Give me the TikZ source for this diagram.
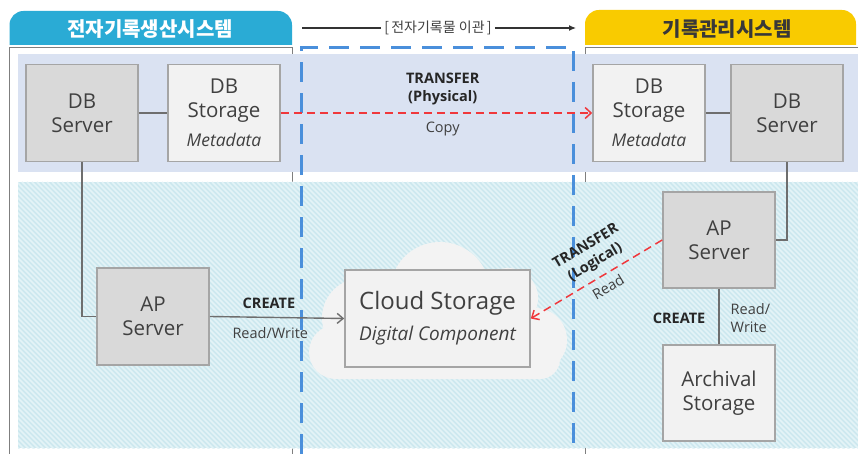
\documentclass[tikz,border=0pt]{standalone}
\usepackage{fontspec}
\setmainfont{Open Sans}
\newfontfamily\kr{Noto Sans CJK KR}
\usetikzlibrary{arrows.meta}
\definecolor{tabblue}{HTML}{2AABD5}
\definecolor{tabyellow}{HTML}{F9CB00}
\definecolor{bandtop}{HTML}{DAE2F2}
\definecolor{bandlow}{HTML}{CDE8EF}
\definecolor{stripe}{HTML}{E4F3F7}
\definecolor{framegray}{HTML}{7F7F7F}
\definecolor{boxdark}{HTML}{D9D9D9}
\definecolor{boxlight}{HTML}{F2F2F2}
\definecolor{boxline}{HTML}{A5A5A5}
\definecolor{txt}{HTML}{404040}
\definecolor{conn}{HTML}{6E6E6E}
\definecolor{reddash}{HTML}{F0383C}
\definecolor{dashblue}{HTML}{4A8FDB}
\definecolor{cloudfill}{HTML}{F3F3F3}
\begin{document}
\begin{tikzpicture}[x=1pt,y=-1pt,
  darkbox/.style={rectangle, fill=boxdark, draw=boxline, line width=1.6pt,
    minimum width=112pt, minimum height=97pt, align=center, text=txt,
    inner sep=0pt, font=\fontsize{20.5}{24}\selectfont},
  lightbox/.style={darkbox, fill=boxlight},
  conline/.style={draw=conn, line width=1.4pt},
  conarrow/.style={conline, -{Straight Barb[length=6pt,width=10pt,line width=1.4pt]}},
  redarrow/.style={draw=reddash, line width=1.5pt, dash pattern=on 8pt off 5pt,
    -{Straight Barb[length=6pt,width=11pt,line width=1.5pt]}},
  lbl/.style={font=\fontsize{14.5}{18}\selectfont, text=txt, inner sep=0pt, align=center},
  blbl/.style={lbl, font=\bfseries\fontsize{14.5}{18.5}\selectfont, text=black!85},
]
\useasboundingbox (0,0) rectangle (858,454);
\fill[white] (0,0) rectangle (858,454);

% tabs
\begin{scope}
  \clip (0,0) rectangle (858,45);
  \fill[tabblue, rounded corners=14pt] (9.5,11) rectangle (292,80);
  \fill[tabyellow, rounded corners=14pt] (585,10) rectangle (856,80);
\end{scope}
\node[font=\kr\bfseries\fontsize{20}{22}\selectfont, text=white] (tleft) at (150,29) {전자기록생산시스템};
\node[font=\kr\bfseries\fontsize{20}{22}\selectfont, text=black!78] (tright) at (727,29) {기록관리시스템};

% header arrow
\node[font=\kr\fontsize{14}{15}\selectfont, text=txt, inner sep=3pt] (hl) at (438,28) {[\,전자기록물 이관\,]};
\coordinate (ha) at (302,28);
\coordinate (hb) at (576,28);
\draw[black!80, line width=1.2pt] (ha) -- (hl.west);
\draw[black!80, line width=1.2pt, -{Latex[length=7pt,width=6pt]}] (hl.east) -- (hb);

% system frames
\draw[framegray, line width=1pt] (9.5,454) -- (9.5,48) -- (292,48) -- (292,454);
\draw[framegray, line width=1pt] (585,454) -- (585,48) -- (858,48);

% bands
\fill[bandtop] (18,54) rectangle (858,172);
\fill[bandlow] (18,182) rectangle (858,448);
\begin{scope}
  \clip (18,182) rectangle (858,448);
  \foreach \i in {0,5,...,1120} {
    \draw[stripe, line width=1.6pt] ({\i-266+18},182) -- ++(280,280);
  }
\end{scope}

% cloud
\fill[cloudfill] (440,292) circle (50);
\fill[cloudfill] (362,318) circle (40);
\fill[cloudfill] (336,352) circle (27);
\fill[cloudfill] (508,298) circle (30);
\fill[cloudfill] (535,340) circle (32);
\fill[cloudfill, rounded corners=20pt] (320,320) rectangle (560,379);

% blue dashed region
\draw[dashblue, line width=2.8pt, dash pattern=on 20pt off 11pt]
  (301.5,454) -- (301.5,47.5) -- (573.5,47.5) -- (573.5,454);

% nodes
\node[darkbox] (dbsL) at (82,113) {DB\\Server};
\node[lightbox] (dbstL) at (224,113) {DB\\Storage\\[5pt]{\fontsize{17.5}{20}\selectfont\itshape Metadata}};
\node[darkbox] (apL) at (153,316.5) {AP\\Server};
\node[lightbox, minimum width=185pt, minimum height=97pt] (cloud) at (437.5,318.5)
  {{\fontsize{24}{27}\selectfont Cloud Storage}\\[7pt]{\fontsize{19}{21}\selectfont\itshape Digital Component}};
\node[lightbox] (dbstR) at (649,113) {DB\\Storage\\[5pt]{\fontsize{17.5}{20}\selectfont\itshape Metadata}};
\node[darkbox] (dbsR) at (787,113) {DB\\Server};
\node[darkbox, minimum height=96pt] (apR) at (719,240) {AP\\Server};
\node[lightbox, minimum height=96pt] (arch) at (719,393) {Archival\\Storage};

% connectors
\draw[conline] (dbsL) -- (dbstL);
\draw[conline] (dbstR) -- (dbsR);
\draw[conline] (dbsL.south) |- (apL.west);
\draw[conline] (dbsR.south) |- (apR.east);
\draw[conarrow] (apL.east) -- (cloud.west)
  node[blbl, pos=0.44, above=8.5pt] {CREATE}
  node[lbl, pos=0.45, below=9.5pt] {Read/Write};
\draw[conline] (apR.south) -- (arch.north)
  node[blbl, pos=0.53, left=13pt] {CREATE}
  node[lbl, pos=0.53, right=11pt, align=left] {Read/\\Write};
\draw[redarrow] (dbstL.east) -- (dbstR.west)
  node[blbl, pos=0.52, above=7pt] {TRANSFER\\(Physical)}
  node[lbl, pos=0.52, below=8pt] {Copy};
\draw[redarrow] (apR.west) -- (cloud.east)
  node[blbl, pos=0.45, sloped, above=7pt] {TRANSFER\\(Logical)}
  node[lbl, pos=0.46, sloped, below=6pt] {Read};
\end{tikzpicture}
\end{document}
